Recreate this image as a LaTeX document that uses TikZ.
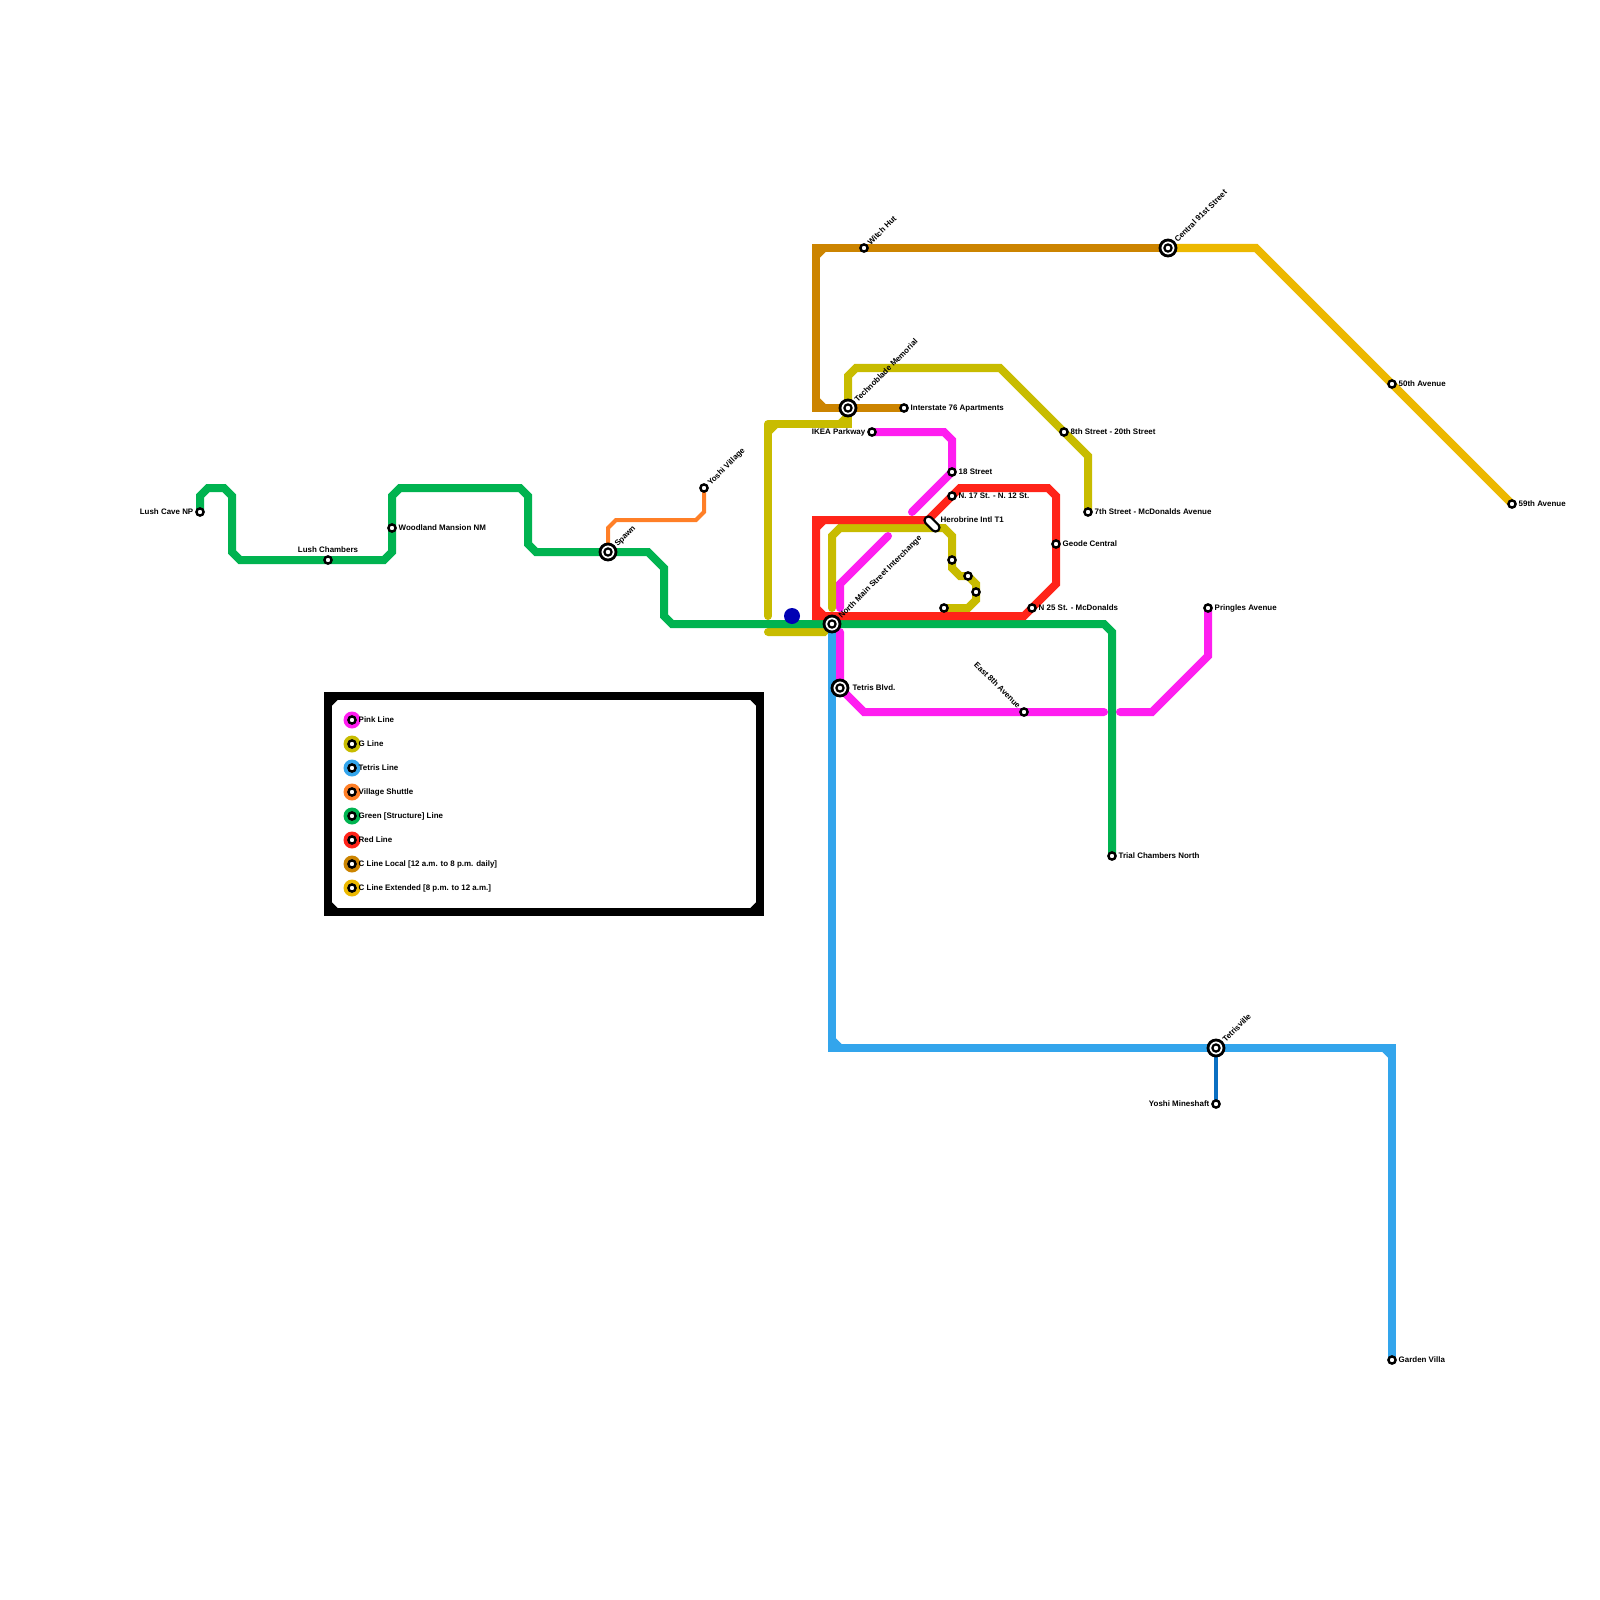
\documentclass[tikz,border=0pt]{standalone}
\usepackage{fontspec}
\setmainfont{Liberation Sans}
\usetikzlibrary{shapes.misc}
\pgfdeclarelayer{lines}
\pgfsetlayers{lines,main}
\definecolor{pinkc}{HTML}{FF1EF0}
\definecolor{gc}{HTML}{C8BC00}
\definecolor{tetrisc}{HTML}{33A5EC}
\definecolor{villagec}{HTML}{FF7F27}
\definecolor{greenc}{HTML}{00B350}
\definecolor{redc}{HTML}{FF2419}
\definecolor{localc}{HTML}{CC8400}
\definecolor{extc}{HTML}{ECB800}
\definecolor{minec}{HTML}{0A6FC2}
\definecolor{dotc}{HTML}{0000B4}
\tikzset{
  mline/.style={line width=0.08cm, miter limit=4},
  pinkline/.style={mline, draw=pinkc, line cap=round},
  gline/.style={mline, draw=gc, line cap=round},
  tetrisline/.style={mline, draw=tetrisc},
  greenline/.style={mline, draw=greenc},
  redline/.style={mline, draw=redc},
  localline/.style={mline, draw=localc},
  extline/.style={mline, draw=extc},
  stn/.style={circle, draw=black, fill=white, line width=0.024cm, minimum size=0.072cm, inner sep=0pt},
  hub/.style={circle, draw=black, fill=white, line width=0.028cm, minimum size=0.16cm, inner sep=0pt,
    path picture={\draw[black, line width=0.022cm] (path picture bounding box.center) circle (0.036cm);}},
  keydisk/.style={circle, fill=#1, minimum size=0.17cm, inner sep=0pt},
  lbl/.style={font=\fontsize{2.26}{3}\selectfont\bfseries, inner sep=0pt, text height=0.064cm, text depth=0cm, anchor=west},
}
\begin{document}
\begin{tikzpicture}[x=0.01cm, y=-0.01cm]
  \useasboundingbox (0,0) rectangle (1600,1600);
  % stations
  \node[stn] (lushcave) at (200,512) {};
  \node[stn] (lushchambers) at (328,560) {};
  \node[stn] (woodland) at (392,528) {};
  \node[hub] (spawn) at (608,552) {};
  \node[stn] (yoshivillage) at (704,488) {};
  \node[stn] (witchhut) at (864,248) {};
  \node[hub] (central) at (1168,248) {};
  \node[stn] (fiftieth) at (1392,384) {};
  \node[stn] (fiftyninth) at (1512,504) {};
  \node[hub] (technoblade) at (848,408) {};
  \node[stn] (interstate) at (904,408) {};
  \node[stn] (ikea) at (872,432) {};
  \node[stn] (eighteenth) at (952,472) {};
  \node[stn] (eighth) at (1064,432) {};
  \node[stn] (seventh) at (1088,512) {};
  \node[stn] (seventeenth) at (952,496) {};
  \node[rounded rectangle, draw=black, fill=white, line width=0.022cm, minimum width=0.18cm, minimum height=0.08cm, inner sep=0pt, rotate=-45] (herobrine) at (932,524) {};
  \coordinate (redjoin) at (928,520);
  \node[stn] (geode) at (1056,544) {};
  \node[stn] (gstopa) at (952,560) {};
  \node[stn] (gstopb) at (968,576) {};
  \node[stn] (gstopc) at (976,592) {};
  \node[stn] (gstopd) at (944,608) {};
  \node[stn] (twentyfifth) at (1032,608) {};
  \node[stn] (pringles) at (1208,608) {};
  \node[hub] (northmain) at (832,624) {};
  \node[hub] (tetrisblvd) at (840,688) {};
  \node[stn] (easteighth) at (1024,712) {};
  \node[stn] (trial) at (1112,856) {};
  \node[hub] (tetrisville) at (1216,1048) {};
  \node[stn] (mineshaft) at (1216,1104) {};
  \node[stn] (garden) at (1392,1360) {};
  % station names
  \node[lbl, anchor=east] (lushcavetext) at (194,511) {Lush Cave NP};
  \node[lbl, anchor=center] (lushchamberstext) at (328,549) {Lush Chambers};
  \node[lbl] (woodlandtext) at (398,527) {Woodland Mansion NM};
  \node[lbl, rotate=45] (spawntext) at (615,545) {Spawn};
  \node[lbl, rotate=45] (yoshivillagetext) at (708,484) {Yoshi Village};
  \node[lbl, rotate=45] (witchhuttext) at (868,244) {Witch Hut};
  \node[lbl, rotate=45] (centraltext) at (1175,241) {Central 91st Street};
  \node[lbl] (fiftiethtext) at (1398,383) {50th Avenue};
  \node[lbl] (fiftyninthtext) at (1518,503) {59th Avenue};
  \node[lbl, rotate=45] (technobladetext) at (855,401) {Technoblade Memorial};
  \node[lbl] (interstatetext) at (910,407) {Interstate 76 Apartments};
  \node[lbl, anchor=east] (ikeatext) at (866,431) {IKEA Parkway};
  \node[lbl] (eighteenthtext) at (958,471) {18 Street};
  \node[lbl] (eighthtext) at (1070,431) {8th Street - 20th Street};
  \node[lbl] (seventhtext) at (1094,511) {7th Street - McDonalds Avenue};
  \node[lbl] (seventeenthtext) at (958,495) {N. 17 St. - N. 12 St.};
  \node[lbl] (herobrinetext) at (940,519) {Herobrine Intl T1};
  \node[lbl] (geodetext) at (1062,543) {Geode Central};
  \node[lbl] (twentyfifthtext) at (1038,607) {N 25 St. - McDonalds};
  \node[lbl] (pringlestext) at (1214,607) {Pringles Avenue};
  \node[lbl, rotate=45] (northmaintext) at (839,617) {North Main Street Interchange};
  \node[lbl] (tetrisblvdtext) at (852,687) {Tetris Blvd.};
  \node[lbl, anchor=east, rotate=-45] (easteighthtext) at (1020,707) {East 8th Avenue};
  \node[lbl] (trialtext) at (1118,855) {Trial Chambers North};
  \node[lbl, rotate=45] (tetrisvilletext) at (1223,1041) {Tetrisville};
  \node[lbl, anchor=east] (mineshafttext) at (1210,1103) {Yoshi Mineshaft};
  \node[lbl] (gardentext) at (1398,1359) {Garden Villa};
  % legend
  \node[keydisk=pinkc] (pinkkey) at (352,720) {};
  \node[stn] (pinkstop) at (352,720) {};
  \node[lbl] (pinktext) at (358,719) {Pink Line};
  \node[keydisk=gc] (gkey) at (352,744) {};
  \node[stn] (gstop) at (352,744) {};
  \node[lbl] (gtext) at (358,743) {G Line};
  \node[keydisk=tetrisc] (tetriskey) at (352,768) {};
  \node[stn] (tetrisstop) at (352,768) {};
  \node[lbl] (tetristext) at (358,767) {Tetris Line};
  \node[keydisk=villagec] (villagekey) at (352,792) {};
  \node[stn] (villagestop) at (352,792) {};
  \node[lbl] (villagetext) at (358,791) {Village Shuttle};
  \node[keydisk=greenc] (greenkey) at (352,816) {};
  \node[stn] (greenstop) at (352,816) {};
  \node[lbl] (greentext) at (358,815) {Green [Structure] Line};
  \node[keydisk=redc] (redkey) at (352,840) {};
  \node[stn] (redstop) at (352,840) {};
  \node[lbl] (redtext) at (358,839) {Red Line};
  \node[keydisk=localc] (localkey) at (352,864) {};
  \node[stn] (localstop) at (352,864) {};
  \node[lbl] (localtext) at (358,863) {C Line Local [12 a.m. to 8 p.m. daily]};
  \node[keydisk=extc] (extkey) at (352,888) {};
  \node[stn] (extstop) at (352,888) {};
  \node[lbl] (exttext) at (358,887) {C Line Extended [8 p.m. to 12 a.m.]};
  \begin{pgfonlayer}{lines}
    % legend box
    \draw[mline, draw=black] (328,696) rectangle (760,912);
    \draw[mline, draw=black] (328,704) -- (336,696) (752,696) -- (760,704) (760,904) -- (752,912) (336,912) -- (328,904);
    % pink
    \draw[pinkline] (ikea.center) -- (944,432) -- (952,440) -- (eighteenth.center) -- (912,512);
    \draw[pinkline] (888,536) -- (840,584) -- (840,608);
    \draw[pinkline] (840,632) -- (tetrisblvd.center) -- (864,712) -- (easteighth.center) -- (1104,712);
    \draw[pinkline] (1120,712) -- (1152,712) -- (1208,656) -- (pringles.center);
    % g line
    \draw[gline] (seventh.center) -- (1088,456) -- (eighth.center) -- (1000,368) -- (856,368) -- (848,376) -- (technoblade.center);
    \draw[gline, line cap=butt] (technoblade.center) -- (848,424) -- (768,424);
    \draw[gline] (768,424) -- (768,616);
    \draw[gline, line cap=butt] (768,432) -- (776,424) (840,424) -- (848,416);
    \draw[gline] (768,632) -- (824,632) -- (northmain.center);
    \draw[gline] (832,608) -- (832,536) -- (840,528) -- (944,528) -- (952,536) -- (952,568) -- (960,576) -- (gstopb.center) -- (976,584) -- (976,600) -- (968,608) -- (gstopd.center);
    % tetris
    \draw[tetrisline] (northmain.center) -- (832,1048) -- (1392,1048) -- (garden.center);
    \draw[tetrisline] (832,1040) -- (840,1048) (1384,1048) -- (1392,1056);
    \draw[line width=0.04cm, draw=minec] (tetrisville.center) -- (mineshaft.center);
    % village
    \draw[line width=0.04cm, draw=villagec] (spawn.center) -- (608,528) -- (616,520) -- (696,520) -- (704,512) -- (yoshivillage.center);
    % green
    \draw[greenline] (lushcave.center) -- (200,496) -- (208,488) -- (224,488) -- (232,496) -- (232,552) -- (240,560) -- (384,560) -- (392,552) -- (392,496) -- (400,488) -- (520,488) -- (528,496) -- (528,544) -- (536,552) -- (648,552) -- (664,568) -- (664,616) -- (672,624) -- (1104,624) -- (1112,632) -- (trial.center);
    % red
    \draw[redline] (redjoin) -- (816,520) -- (816,616) -- (1024,616) -- (1056,584) -- (1056,496) -- (1048,488) -- (960,488) -- (redjoin);
    \draw[redline] (824,520) -- (816,528) (816,608) -- (824,616);
    % c line
    \draw[localline] (central.center) -- (816,248) -- (816,408) -- (interstate.center);
    \draw[localline] (824,248) -- (816,256) (816,400) -- (824,408);
    \draw[extline] (central.center) -- (1256,248) -- (fiftyninth.center);
    \fill[dotc] (792,616) circle (8);
  \end{pgfonlayer}
\end{tikzpicture}
\end{document}
